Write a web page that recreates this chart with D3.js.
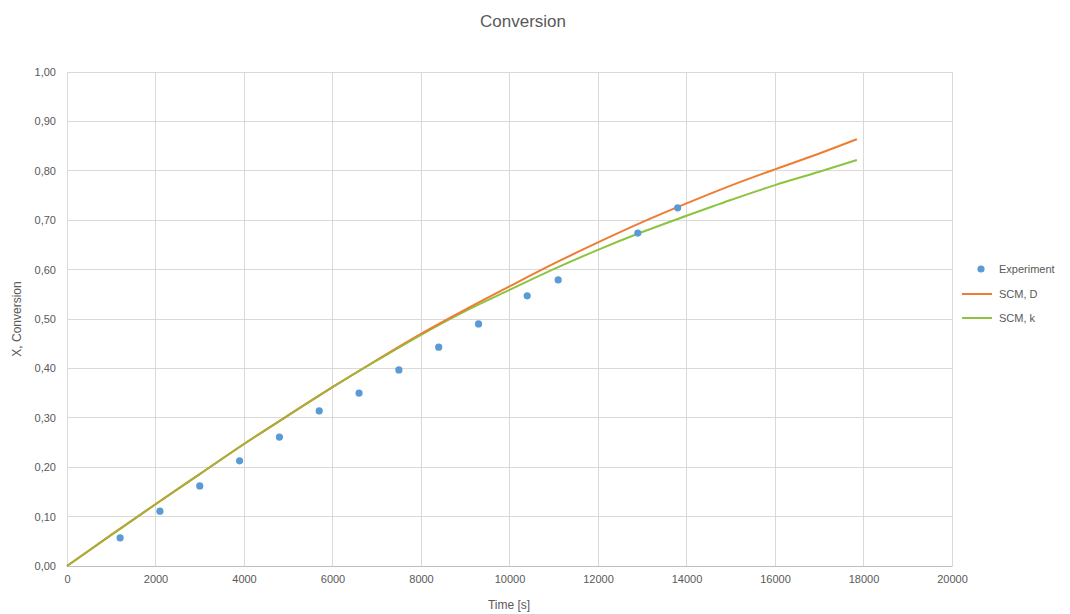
<!DOCTYPE html>
<html><head><meta charset="utf-8">
<script src="https://cdn.jsdelivr.net/npm/d3@7"></script>
<style>body{margin:0;background:#fff;} text{font-family:"Liberation Sans","Open Sans",sans-serif;fill:#595959;}</style>
</head><body>
<svg id="c" width="1070" height="614"></svg>
<script>
const expTime = [1200,2100,3000,3900,4800,5700,6600,7500,8400,9300,10400,11100,12900,13800];
const expX = [0.057,0.111,0.162,0.213,0.261,0.314,0.350,0.397,0.443,0.490,0.547,0.579,0.674,0.725];
const modelTime = [0,1000,2000,3000,4000,5000,6000,7000,8000,9000,10000,11000,12000,13000,14000,15000,16000,17000,17850];
const scmD = [0,0.063,0.125,0.186,0.247,0.305,0.362,0.417,0.470,0.519,0.566,0.612,0.655,0.696,0.734,0.770,0.803,0.835,0.864];
const scmK = [0,0.063,0.125,0.186,0.247,0.305,0.362,0.416,0.468,0.516,0.559,0.601,0.640,0.676,0.709,0.741,0.771,0.798,0.822];
const xTicks = [0,2000,4000,6000,8000,10000,12000,14000,16000,18000,20000];
const yTicks = [0,0.1,0.2,0.3,0.4,0.5,0.6,0.7,0.8,0.9,1.0];

const svg = d3.select("#c");
const x = d3.scaleLinear().domain([0,20000]).range([67,952]);
const y = d3.scaleLinear().domain([0,1]).range([566,72]);
const grid = "#d9d9d9";

svg.append("g").selectAll("line").data(yTicks).join("line")
  .attr("x1",x(0)).attr("x2",x(20000)).attr("y1",d=>y(d)).attr("y2",d=>y(d))
  .attr("stroke",grid).attr("stroke-width",1).attr("shape-rendering","crispEdges");
svg.append("g").selectAll("line").data(xTicks).join("line")
  .attr("y1",y(0)).attr("y2",y(1)).attr("x1",d=>x(d)).attr("x2",d=>x(d))
  .attr("stroke",grid).attr("stroke-width",1).attr("shape-rendering","crispEdges");

const fmt = d => d3.format(".2f")(d).replace(".",",");
const yAxis = d3.axisLeft(y).tickValues(yTicks).tickFormat(fmt).tickSize(0).tickPadding(11);
const gy = svg.append("g").attr("transform",`translate(${x(0)},0)`).call(yAxis);
gy.select(".domain").remove();
gy.selectAll("text").style("font-size","11px").style("fill","#595959");
const xAxis = d3.axisBottom(x).tickValues(xTicks).tickFormat(d=>d).tickSize(0).tickPadding(9);
const gx = svg.append("g").attr("transform",`translate(0,${y(0)})`).call(xAxis);
gx.select(".domain").attr("stroke","#bfbfbf");
gx.selectAll("text").style("font-size","11px").style("fill","#595959");

const line = d3.line().x(d=>x(d[0])).y(d=>y(d[1])).curve(d3.curveMonotoneX);
svg.append("path").datum(modelTime.map((t,i)=>[t,scmK[i]])).attr("d",line)
  .attr("fill","none").attr("stroke","#8cc43f").attr("stroke-width",2);
svg.append("path").datum(modelTime.map((t,i)=>[t,scmD[i]])).attr("d",line)
  .attr("fill","none").attr("stroke","#ed7d31").attr("stroke-width",2);
svg.append("path").datum(modelTime.map((t,i)=>[t,scmK[i]]).filter(d=>d[0]<=8000)).attr("d",line)
  .attr("fill","none").attr("stroke","#8cc43f").attr("stroke-width",1.5).attr("opacity",0.8);

svg.append("g").selectAll("circle").data(expTime.map((t,i)=>[t,expX[i]])).join("circle")
  .attr("cx",d=>x(d[0])).attr("cy",d=>y(d[1])).attr("r",3.6).attr("fill","#5b9bd5");

svg.append("text").attr("x",523).attr("y",27).attr("text-anchor","middle")
  .style("font-size","17px").text("Conversion");
svg.append("text").attr("x",509).attr("y",609).attr("text-anchor","middle")
  .style("font-size","12px").text("Time [s]");
svg.append("text").attr("transform","translate(21,319) rotate(-90)").attr("text-anchor","middle")
  .style("font-size","12px").text("X, Conversion");

const leg = svg.append("g");
leg.append("circle").attr("cx",981).attr("cy",269).attr("r",3.6).attr("fill","#5b9bd5");
leg.append("text").attr("x",999).attr("y",273).style("font-size","11px").text("Experiment");
leg.append("line").attr("x1",962).attr("x2",992).attr("y1",294).attr("y2",294).attr("stroke","#ed7d31").attr("stroke-width",2);
leg.append("text").attr("x",999).attr("y",298).style("font-size","11px").text("SCM, D");
leg.append("line").attr("x1",962).attr("x2",992).attr("y1",318).attr("y2",318).attr("stroke","#8cc43f").attr("stroke-width",2);
leg.append("text").attr("x",999).attr("y",322).style("font-size","11px").text("SCM, k");
</script>
</body></html>
